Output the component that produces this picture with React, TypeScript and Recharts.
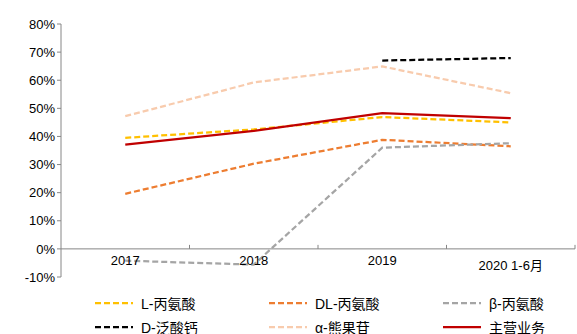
import { LineChart, Line, XAxis, YAxis, ReferenceLine } from 'recharts'

document.body.style.margin = '0'

const categories = ['2017', '2018', '2019', '2020 1-6月']
const lAla = [39.5, 42.5, 46.9, 45.0]
const dlAla = [19.6, 30.3, 38.8, 36.5]
const bAla = [-4.2, -5.6, 36.0, 37.6]
const dCa = [null, null, 67.0, 67.9]
const arbutin = [47.2, 59.2, 64.9, 55.4]
const mainBiz = [37.1, 42.0, 48.3, 46.5]
const yTicks = [-10, 0, 10, 20, 30, 40, 50, 60, 70, 80]

const series = [
  { key: 'lAla', name: 'L-丙氨酸', color: '#FFC000', dash: '6 3', values: lAla },
  { key: 'dlAla', name: 'DL-丙氨酸', color: '#ED7D31', dash: '6 3', values: dlAla },
  { key: 'bAla', name: 'β-丙氨酸', color: '#A5A5A5', dash: '6 3', values: bAla },
  { key: 'dCa', name: 'D-泛酸钙', color: '#000000', dash: '6 3', values: dCa },
  { key: 'arbutin', name: 'α-熊果苷', color: '#F8CBAD', dash: '6 3', values: arbutin },
  { key: 'mainBiz', name: '主营业务', color: '#C00000', dash: undefined, values: mainBiz },
]

const W = 577
const H = 334
const X_H = 30
const M = { top: 24, right: 2, left: 0, bottom: 57 - X_H }
const Y_W = 61
const PLOT_W = W - Y_W - M.right
const PLOT_H = H - M.top - M.bottom - X_H
const ZERO_Y = M.top + (PLOT_H * 80) / 90
const BAND = PLOT_W / categories.length
const FONT = '"Liberation Sans", Arial, "Noto Sans CJK SC", sans-serif'

const data = categories.map((c, i) => {
  const row: Record<string, any> = { name: c }
  series.forEach(s => { row[s.key] = s.values[i] })
  return row
})

function XTick(props: any) {
  const { x, payload, index } = props
  const last = index === categories.length - 1
  return (
    <g>
      <line x1={x + BAND / 2} x2={x + BAND / 2} y1={ZERO_Y - 4} y2={ZERO_Y} stroke="#868686" />
      <text x={x} y={ZERO_Y + (last ? 21 : 16)} textAnchor="middle" fontSize={13} fill="#000" fontFamily={FONT}>
        {payload.value}
      </text>
    </g>
  )
}

function LegendBox() {
  return (
    <div style={{ position: 'absolute', left: 95, top: 294, width: 480, display: 'grid', gridTemplateColumns: '174px 174px 132px', rowGap: 6, fontFamily: FONT, fontSize: 14, color: '#000' }}>
      {series.map(s => (
        <div key={s.key} style={{ display: 'flex', alignItems: 'center', height: 18, whiteSpace: 'nowrap' }}>
          <svg width={40} height={6} style={{ marginRight: 6 }}>
            <line x1={0} x2={38} y1={3} y2={3} stroke={s.color} strokeWidth={2.25} strokeDasharray={s.dash} />
          </svg>
          <span>{s.name}</span>
        </div>
      ))}
    </div>
  )
}

export default function App() {
  return (
    <div style={{ position: 'relative', width: W, height: H, background: '#fff', overflow: 'hidden' }}>
      <LineChart width={W} height={H} data={data} margin={M}>
        <XAxis
          dataKey="name"
          height={X_H}
          axisLine={false}
          tickLine={false}
          tick={<XTick />}
          interval={0}
          padding={{ left: BAND / 2, right: BAND / 2 }}
        />
        <YAxis
          width={Y_W}
          domain={[-10, 80]}
          ticks={yTicks}
          interval={0}
          tickFormatter={v => `${v}%`}
          axisLine={{ stroke: '#868686' }}
          tickLine={{ stroke: '#868686' }}
          tickSize={4}
          tick={{ fontSize: 13, fill: '#000', fontFamily: FONT }}
        />
        <ReferenceLine y={0} stroke="#868686" />
        {series.map(s => (
          <Line
            key={s.key}
            type="linear"
            dataKey={s.key}
            name={s.name}
            stroke={s.color}
            strokeWidth={2.25}
            strokeDasharray={s.dash}
            dot={false}
            connectNulls={false}
            isAnimationActive={false}
          />
        ))}
      </LineChart>
      <LegendBox />
    </div>
  )
}
